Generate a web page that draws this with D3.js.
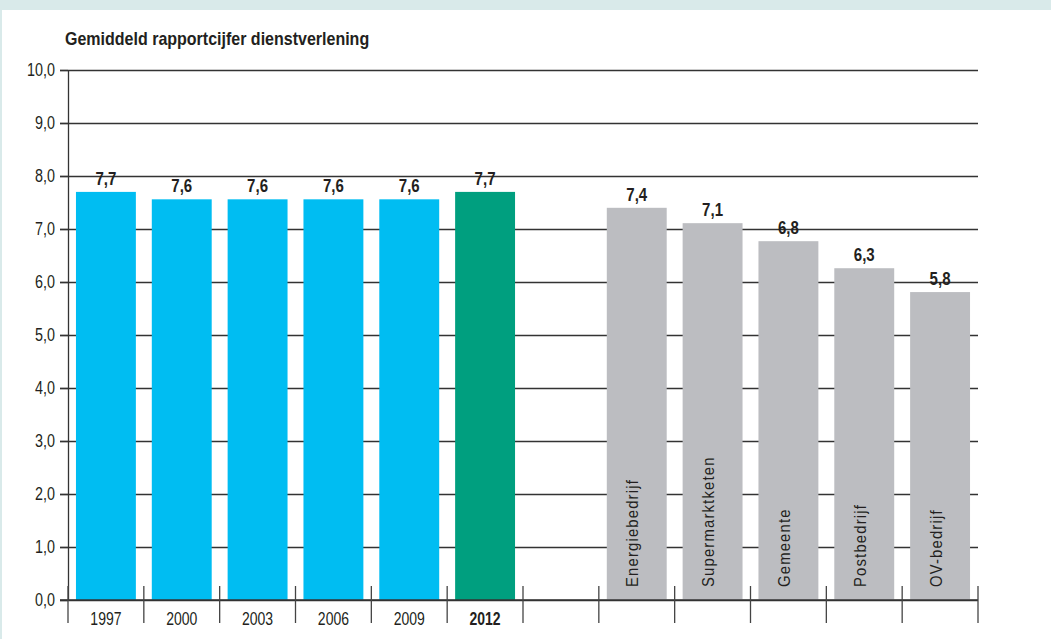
<!DOCTYPE html>
<html>
<head>
<meta charset="utf-8">
<script src="https://cdn.jsdelivr.net/npm/d3@7"></script>
<style>
	html, body { margin: 0; padding: 0; background: #d9eaea; }
	svg { display: block; }
</style>
</head>
<body>
<div id="chart"></div>
<script>
const years = ["1997", "2000", "2003", "2006", "2009", "2012"];
const yearScores = [7.7, 7.56, 7.56, 7.56, 7.56, 7.7];
const sectors = ["Energiebedrijf", "Supermarktketen", "Gemeente", "Postbedrijf", "OV-bedrijf"];
const sectorScores = [7.4, 7.11, 6.77, 6.26, 5.81];
const yTicks = [0, 1, 2, 3, 4, 5, 6, 7, 8, 9, 10];
const title = "Gemiddeld rapportcijfer dienstverlening";

const width = 1051;
const height = 639;
// no condensed face installed: squeeze Liberation Sans horizontally instead
const fontFamily = "'Liberation Sans', Arial, sans-serif";
const textColor = "#231f20";
const lineColor = "#333";
const yearColor = "#00bdf2";
const currentColor = "#009f7f";
const sectorColor = "#bcbdc1";

const nl = d3.formatLocale({ decimal: ",", thousands: ".", grouping: [3], currency: ["€", ""] });
const fmt = nl.format(".1f");

// squeeze text horizontally around the svg/group origin, keeping its x position
const narrow = (sel, sx) => {
	sel.each(function () {
		const t = d3.select(this);
		const x0 = +t.attr("x") || 0;
		const tf = t.attr("transform") || "";
		t.attr("x", x0 / sx).attr("transform", `${tf} scale(${sx},1)`);
	});
};

// one empty slot between the years and the sectors
const slots = [...years, "gap", ...sectors];
const bars = [
	...years.map((k, i) => ({ key: k, value: yearScores[i], color: i === years.length - 1 ? currentColor : yearColor })),
	...sectors.map((k, i) => ({ key: k, value: sectorScores[i], color: sectorColor, sector: true })),
];

const x = d3.scaleBand(slots, [68, 978]).paddingInner(0.21).paddingOuter(0.105);
const y = d3.scaleLinear([0, 10], [600, 70]);

const svg = d3.select("#chart").append("svg").attr("width", width).attr("height", height);

// white panel
svg.append("rect").attr("x", 2).attr("y", 10).attr("width", width - 2).attr("height", height - 10).attr("fill", "#fff");

svg.append("text")
	.attr("x", 65)
	.attr("y", 45)
	.attr("font-family", fontFamily)
	.attr("font-weight", "bold")
	.attr("font-size", 17.5)
	.attr("fill", textColor)
	.text(title)
	.call(narrow, 0.915);

// gridlines
const grid = svg.append("g")
	.attr("transform", "translate(978,0)")
	.call(d3.axisLeft(y).tickValues(yTicks).tickSize(978 - 60).tickFormat(""));
grid.select(".domain").remove();
grid.selectAll(".tick line").attr("stroke", lineColor).attr("stroke-width", 1.3);

svg.append("g")
	.selectAll("rect")
	.data(bars)
	.join("rect")
	.attr("x", (d) => x(d.key))
	.attr("y", (d) => y(d.value))
	.attr("width", x.bandwidth())
	.attr("height", (d) => y(0) - y(d.value))
	.attr("fill", (d) => d.color);

// value labels
svg.append("g")
	.selectAll("text")
	.data(bars)
	.join("text")
	.attr("x", (d) => x(d.key) + x.bandwidth() / 2)
	.attr("y", (d) => y(d.value) - 7)
	.attr("text-anchor", "middle")
	.attr("font-family", fontFamily)
	.attr("font-weight", "bold")
	.attr("font-size", 17.5)
	.attr("fill", textColor)
	.text((d) => fmt(d.value))
	.call(narrow, 0.86);

// sector names inside the grey bars
svg.append("g")
	.selectAll("text")
	.data(bars.filter((d) => d.sector))
	.join("text")
	.attr("transform", (d) => `translate(${x(d.key) + x.bandwidth() / 2 + 1.5},587) rotate(-90)`)
	.attr("font-family", fontFamily)
	.attr("font-size", 16.5)
	.attr("letter-spacing", 1.3)
	.attr("fill", textColor)
	.text((d) => d.key)
	.call(narrow, 0.9);

// y axis
const yAxis = svg.append("g")
	.attr("transform", "translate(68,0)")
	.call(d3.axisLeft(y).tickValues(yTicks).tickSize(8).tickSizeOuter(0).tickPadding(5).tickFormat(fmt));
yAxis.select(".domain").attr("stroke", lineColor).attr("stroke-width", 1.3);
yAxis.selectAll(".tick line").attr("stroke", lineColor).attr("stroke-width", 1.3);
yAxis.selectAll("text")
	.attr("font-family", fontFamily)
	.attr("font-size", 17.5)
	.attr("fill", textColor)
	.call(narrow, 0.82);

// x axis: baseline, slot boundaries, year labels
svg.append("line")
	.attr("x1", 60).attr("x2", 978)
	.attr("y1", y(0)).attr("y2", y(0))
	.attr("stroke", lineColor).attr("stroke-width", 1.3);

svg.append("g")
	.selectAll("line")
	.data(d3.range(slots.length + 1))
	.join("line")
	.attr("x1", (i) => x.range()[0] + i * x.step())
	.attr("x2", (i) => x.range()[0] + i * x.step())
	.attr("y1", 586)
	.attr("y2", 623)
	.attr("stroke", "#444")
	.attr("stroke-width", 1.3);

const xAxis = svg.append("g")
	.attr("transform", `translate(0,${y(0)})`)
	.call(d3.axisBottom(x).tickValues(years).tickSize(0).tickPadding(13));
xAxis.select(".domain").remove();
xAxis.selectAll("text")
	.attr("font-family", fontFamily)
	.attr("font-size", 17.5)
	.attr("fill", textColor)
	.attr("font-weight", (d) => (d === years[years.length - 1] ? "bold" : "normal"))
	.call(narrow, 0.8);
</script>
</body>
</html>
